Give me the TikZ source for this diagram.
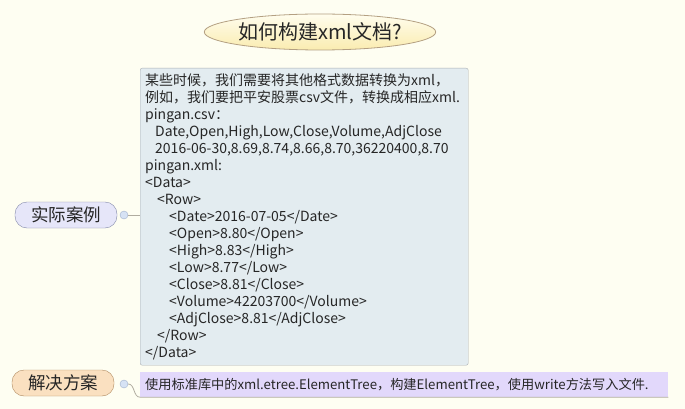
\documentclass[tikz,border=0pt]{standalone}
\usepackage{fontspec}
\newfontfamily\cjk{Noto Sans CJK SC}
\usetikzlibrary{shapes.geometric}

\definecolor{bgcream}{RGB}{254,254,242}
\definecolor{titleedge}{RGB}{180,160,130}
\definecolor{titletop}{RGB}{255,253,238}
\definecolor{titlebot}{RGB}{250,236,176}
\definecolor{boxfill}{RGB}{227,236,240}
\definecolor{boxedge}{RGB}{170,174,178}
\definecolor{casefill}{RGB}{230,230,249}
\definecolor{caseedge}{RGB}{128,134,168}
\definecolor{planfill}{RGB}{250,224,192}
\definecolor{planedge}{RGB}{176,138,96}
\definecolor{notefill}{RGB}{226,216,251}
\definecolor{knobfill}{RGB}{214,226,244}
\definecolor{knobedge}{RGB}{160,176,204}
\definecolor{linkgray}{RGB}{176,172,160}
\definecolor{inkgray}{RGB}{38,38,38}

\begin{document}
\begin{tikzpicture}[x=1pt, y=-1pt,
    topic/.style={ellipse, draw=titleedge, thick, top color=titletop, bottom color=titlebot, minimum width=170pt, minimum height=36pt, inner sep=0pt, text=inkgray, font=\cjk\fontsize{20}{24}\selectfont},
    branch/.style={draw, rounded corners=12pt, minimum width=102pt, minimum height=26pt, inner sep=0pt, text=inkgray, font=\cjk\fontsize{17.5}{20}\selectfont},
    knob/.style={circle, draw=knobedge, fill=knobfill, minimum size=8pt, inner sep=0pt},
    codebox/.style={draw=boxedge, fill=boxfill, rounded corners=2pt, text width=318pt, minimum height=297pt, inner sep=5pt, align=left, text=inkgray, font=\cjk\fontsize{14}{17}\selectfont},
    note/.style={fill=notefill, text width=518pt, minimum height=25pt, inner sep=5pt, align=left, text=inkgray, font=\cjk\fontsize{13.2}{16}\selectfont},
    link/.style={draw=linkgray, thick}
]
    % Canvas
    \fill[bgcream] (0,0) rectangle (685,409);
    \useasboundingbox (0,0) rectangle (685,409);

    % Title
    \node[topic] (title) at (320,32) {如何构建xml文档?};

    % Branches
    \node[branch, draw=caseedge, fill=casefill] (case) at (66,215) {实际案例};
    \node[knob] (cknob) at (124,215) {};
    \node[branch, draw=planedge, fill=planfill] (plan) at (63,383) {解决方案};
    \node[knob] (pknob) at (124,384) {};

    % Example
    \node[codebox, anchor=north west] (example) at (140,68) {%
        某些时候，我们需要将其他格式数据转换为xml，\\
        例如，我们要把平安股票csv文件，转换成相应xml.\\
        pingan.csv：\\
        \hspace*{10pt}Date,Open,High,Low,Close,Volume,AdjClose\\
        \hspace*{10pt}2016-06-30,8.69,8.74,8.66,8.70,36220400,8.70\\
        pingan.xml:\\
        <Data>\\
        \hspace*{12pt}<Row>\\
        \hspace*{24pt}<Date>2016-07-05</Date>\\
        \hspace*{24pt}<Open>8.80</Open>\\
        \hspace*{24pt}<High>8.83</High>\\
        \hspace*{24pt}<Low>8.77</Low>\\
        \hspace*{24pt}<Close>8.81</Close>\\
        \hspace*{24pt}<Volume>42203700</Volume>\\
        \hspace*{24pt}<AdjClose>8.81</AdjClose>\\
        \hspace*{12pt}</Row>\\
        </Data>};

    % Solution
    \node[note, anchor=west] (answer) at (140,384.5) {使用标准库中的xml.etree.ElementTree，构建ElementTree，使用write方法写入文件.};

    % Links
    \draw[link] (cknob) -- (example.west |- cknob);
    \draw[link] (pknob.east) to[out=0, in=180] (answer.south west) -- (answer.south east);
\end{tikzpicture}
\end{document}
